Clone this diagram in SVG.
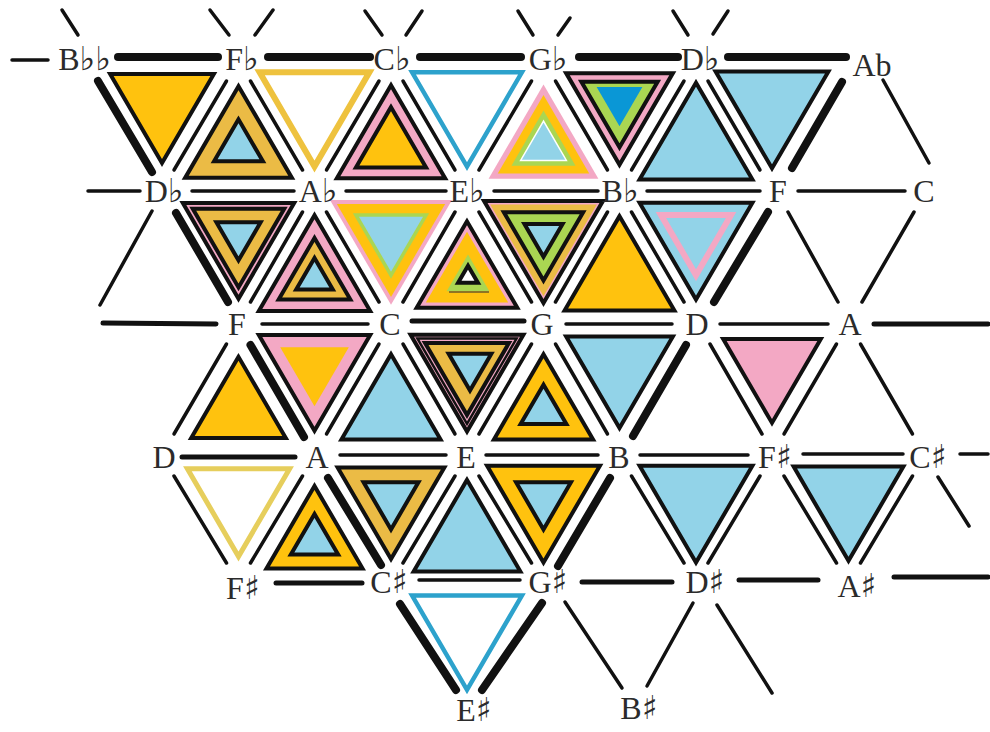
<svg xmlns="http://www.w3.org/2000/svg" width="990" height="732" viewBox="0 0 990 732">
<style>
.k{stroke:#111;stroke-width:4;stroke-linejoin:miter;stroke-miterlimit:10}
.o{fill:#FFC20E}.c{fill:#EBBB45}.b{fill:#92D3E8}.p{fill:#F3A8C4}.g{fill:#AAD652}.d{fill:#0A97D6}.w{fill:#fff}
.ys{fill:#fff;stroke:#EEC23E;stroke-width:6}
.yl{fill:#fff;stroke:#E6CE5C;stroke-width:5}
.bs{fill:#fff;stroke:#2DA2CC;stroke-width:4.5}
.ln line{stroke:#111;stroke-width:3.5;stroke-linecap:round}
.ln .th{stroke-width:8}
.ln .md{stroke-width:5}
.lb{font-family:"Liberation Serif","DejaVu Serif",serif;font-size:32px;fill:#2b2b2b;text-anchor:middle}
.lb tspan{font-family:"DejaVu Sans","DejaVu Serif",sans-serif;font-size:33px;fill:#2b2b2b}
</style>
<defs>
<polygon id="D" points="-76.25,-43.67 76.25,-43.67 0,87.33" vector-effect="non-scaling-stroke"/>
<polygon id="U" points="0,-87.33 -76.25,43.67 76.25,43.67" vector-effect="non-scaling-stroke"/>
</defs>
<rect width="990" height="732" fill="#fff"/>

<g id="connectors" class="ln">
<line x1="62" y1="10" x2="78" y2="35"/>
<line x1="210" y1="10" x2="229" y2="35"/><line x1="273" y1="10" x2="255" y2="35"/>
<line x1="365" y1="11" x2="382" y2="35"/><line x1="422" y1="11" x2="406" y2="35"/>
<line x1="518" y1="11" x2="533" y2="35"/><line x1="570" y1="18" x2="558" y2="35"/>
<line x1="673" y1="11" x2="688" y2="35"/><line x1="728" y1="11" x2="713" y2="34"/>
<line x1="12" y1="60" x2="48" y2="60"/>
<line class="th" x1="118" y1="57" x2="218" y2="57"/>
<line class="th" x1="268" y1="57" x2="370" y2="57"/>
<line class="th" x1="420" y1="57" x2="521" y2="57"/>
<line class="th" x1="579" y1="57" x2="678" y2="57"/>
<line class="th" x1="728" y1="57" x2="846" y2="57"/>

<line class="th" x1="98" y1="81" x2="152" y2="172"/>
<line x1="226.5" y1="81" x2="174" y2="170"/>
<line x1="250.5" y1="81" x2="302.5" y2="170"/>
<line x1="379" y1="81" x2="326.5" y2="170"/>
<line x1="403" y1="81" x2="455" y2="170"/>
<line x1="531.5" y1="81" x2="479" y2="170"/>
<line x1="555.5" y1="81" x2="607.5" y2="170"/>
<line x1="684" y1="81" x2="631.5" y2="170"/>
<line x1="708" y1="81" x2="760" y2="170"/>
<line class="th" x1="842" y1="82" x2="792" y2="168"/>
<line x1="883" y1="80" x2="929" y2="163"/>

<line x1="88" y1="191" x2="140" y2="191"/>
<line x1="192" y1="191" x2="294" y2="191"/>
<line x1="346" y1="191" x2="446" y2="191"/>
<line x1="494" y1="191" x2="598" y2="191"/>
<line x1="647" y1="191" x2="760" y2="191"/>
<line x1="798" y1="191" x2="905" y2="191"/>

<line x1="152" y1="211" x2="100" y2="305"/>
<line class="th" x1="176" y1="213" x2="228" y2="302"/>
<line x1="302.5" y1="212" x2="250.5" y2="302"/>
<line x1="326.5" y1="212" x2="379" y2="302"/>
<line x1="455" y1="212" x2="403" y2="302"/>
<line x1="479" y1="212" x2="531.5" y2="302"/>
<line x1="607.5" y1="212" x2="555.5" y2="302"/>
<line x1="631.5" y1="212" x2="684" y2="302"/>
<line class="th" x1="768" y1="212" x2="714" y2="302"/>
<line x1="788" y1="212" x2="838" y2="302"/>
<line x1="914" y1="212" x2="862" y2="302"/>

<line class="md" x1="103" y1="323" x2="216" y2="324"/>
<line x1="262" y1="324" x2="368" y2="324"/>
<line class="md" x1="412" y1="321" x2="524" y2="321"/>
<line x1="566" y1="324" x2="672" y2="324"/>
<line x1="720" y1="324" x2="828" y2="324"/>
<line class="md" x1="874" y1="324" x2="988" y2="324"/>

<line x1="226.5" y1="344" x2="174" y2="434"/>
<line class="th" x1="250.5" y1="345" x2="304" y2="437"/>
<line x1="379" y1="344" x2="326.5" y2="434"/>
<line x1="403" y1="344" x2="455" y2="434"/>
<line x1="531.5" y1="344" x2="479" y2="434"/>
<line x1="555.5" y1="344" x2="607.5" y2="434"/>
<line class="th" x1="686" y1="345" x2="633" y2="436"/>
<line x1="710" y1="344" x2="762" y2="434"/>
<line x1="836.5" y1="344" x2="784" y2="434"/>
<line x1="860.5" y1="344" x2="912.5" y2="434"/>

<line class="md" x1="182" y1="457" x2="295" y2="457"/>
<line x1="340" y1="455" x2="446" y2="455"/>
<line x1="486" y1="455" x2="598" y2="455"/>
<line x1="640" y1="455" x2="748" y2="455"/>
<line x1="803" y1="454" x2="903" y2="454"/>
<line x1="960" y1="454" x2="988" y2="454"/>

<line x1="174" y1="476" x2="226.5" y2="563"/>
<line x1="302.5" y1="476" x2="250.5" y2="563"/>
<line class="th" x1="328" y1="478" x2="381" y2="565"/>
<line x1="455" y1="476" x2="403" y2="563"/>
<line x1="479" y1="476" x2="531.5" y2="563"/>
<line class="th" x1="610" y1="478" x2="558" y2="566"/>
<line x1="631.5" y1="476" x2="684" y2="563"/>
<line x1="760" y1="476" x2="708" y2="563"/>
<line x1="784" y1="476" x2="836.5" y2="563"/>
<line x1="912.5" y1="476" x2="860.5" y2="563"/>
<line x1="938" y1="477" x2="969" y2="526"/>

<line class="md" x1="276" y1="583" x2="362" y2="583"/>
<line x1="419" y1="580" x2="520" y2="580"/>
<line class="md" x1="582" y1="582" x2="672" y2="582"/>
<line class="md" x1="739" y1="580" x2="818" y2="580"/>
<line class="md" x1="894" y1="577" x2="988" y2="577"/>

<line class="th" x1="400" y1="604" x2="456" y2="690"/>
<line class="th" x1="542" y1="603" x2="482" y2="690"/>
<line x1="565" y1="602" x2="622" y2="688"/>
<line x1="693" y1="603" x2="647" y2="686"/>
<line x1="717" y1="605" x2="772" y2="693"/>
</g>

<g id="t-BbbFbDb"><use href="#D" class="o k" transform="translate(162 103.7) scale(0.68)"/></g>
<g id="t-FbDbAb"><use href="#U" class="c k" transform="translate(238.5 147.3) scale(0.70)"/><use href="#U" class="b k" transform="translate(238.5 147.3) scale(0.32)"/></g>
<g id="t-FbCbAb"><use href="#D" class="ys" transform="translate(314.5 103.7) scale(0.72)"/></g>
<g id="t-CbAbEb"><use href="#U" class="p k" transform="translate(391 147.3) scale(0.71)"/><use href="#U" class="o k" transform="translate(391 147.3) scale(0.46)"/></g>
<g id="t-CbGbEb"><use href="#D" class="bs" transform="translate(467 103.7) scale(0.72)"/></g>
<g id="t-GbEbBb"><use href="#U" class="p" transform="translate(543.5 147.3) scale(0.72)"/><use href="#U" class="o" transform="translate(543.5 147.3) scale(0.60)"/><use href="#U" class="g" transform="translate(543.5 147.3) scale(0.42)"/><use href="#U" class="b" stroke="#fff" stroke-width="1.5" transform="translate(543.5 147.3) scale(0.30)"/></g>
<g id="t-GbDbBb"><use href="#D" class="p k" transform="translate(619.5 103.7) scale(0.70)"/><use href="#D" class="g k" transform="translate(619.5 103.7) scale(0.50)"/><use href="#D" class="d" transform="translate(619.5 100) scale(0.30)"/></g>
<g id="t-DbBbF"><use href="#U" class="b k" transform="translate(696 147.3) scale(0.74)"/></g>
<g id="t-DbAbF"><use href="#D" class="b k" transform="translate(772 103.7) scale(0.74)"/></g>

<g id="t-DbAbF2"><use href="#D" class="p k" transform="translate(238.5 235) scale(0.73)"/><use href="#D" class="c k" transform="translate(238.5 235) scale(0.60)"/><use href="#D" class="b k" transform="translate(238.5 235) scale(0.29)"/></g>
<g id="t-FCAb"><use href="#U" class="p k" transform="translate(314.5 279) scale(0.73)"/><use href="#U" class="c k" transform="translate(314.5 279) scale(0.47)"/><use href="#U" class="b k" transform="translate(314.5 279) scale(0.24)"/></g>
<g id="t-AbEbC"><use href="#D" class="p" transform="translate(391 235) scale(0.80)"/><use href="#D" class="o" transform="translate(391 235) scale(0.71)"/><use href="#D" class="g" transform="translate(391 235) scale(0.50)"/><use href="#D" class="b" transform="translate(391 235) scale(0.42)"/></g>
<g id="t-CGEb"><use href="#U" class="p k" transform="translate(467 279) scale(0.66)"/><use href="#U" class="o" transform="translate(467 279) scale(0.54)"/><use href="#U" class="g" transform="translate(468 279) scale(0.28)"/><line x1="449" y1="292" x2="489" y2="292" stroke="#6b5a2a" stroke-width="1.5"/><use href="#U" class="w k" stroke-width="3.5" transform="translate(468 277) scale(0.13)"/></g>
<g id="t-EbBbG"><use href="#D" class="p k" transform="translate(543.5 235) scale(0.78)"/><use href="#D" class="c" transform="translate(543.5 235) scale(0.70)"/><use href="#D" class="g k" transform="translate(543.5 235) scale(0.52)"/><use href="#D" class="b k" transform="translate(543.5 235) scale(0.25)"/></g>
<g id="t-GDBb"><use href="#U" class="o k" transform="translate(619.5 279) scale(0.72)"/></g>
<g id="t-BbFD"><use href="#D" class="b k" transform="translate(696 235) scale(0.74)"/><use href="#D" class="b" stroke="#F3A8C4" stroke-width="6" transform="translate(696 235) scale(0.46)"/></g>

<g id="t-DAF"><use href="#U" class="o k" transform="translate(238.5 411) scale(0.62)"/></g>
<g id="t-FCA"><use href="#D" class="p k" transform="translate(314.5 367) scale(0.73)"/><use href="#D" class="o" transform="translate(314.5 367) scale(0.45)"/></g>
<g id="t-AEC"><use href="#U" class="b k" transform="translate(391 411) scale(0.65)"/></g>
<g id="t-CGE"><use href="#D" class="p k" transform="translate(467 367) scale(0.74)"/><use href="#D" class="p" stroke="#111" stroke-width="2.5" transform="translate(467 367) scale(0.65)"/><use href="#D" class="c k" transform="translate(467 367) scale(0.55)"/><use href="#D" class="b k" transform="translate(470 366) scale(0.28)"/></g>
<g id="t-EBG"><use href="#U" class="o k" transform="translate(543.5 411) scale(0.65)"/><use href="#U" class="b k" transform="translate(543.5 411) scale(0.30)"/></g>
<g id="t-GDB"><use href="#D" class="b k" transform="translate(619.5 367) scale(0.70)"/></g>
<g id="t-DAFs"><use href="#D" class="p k" transform="translate(772 367) scale(0.64)"/></g>

<g id="t-DAFs2"><use href="#D" class="yl" transform="translate(238.5 498) scale(0.67)"/></g>
<g id="t-FsCsA"><use href="#U" class="o k" transform="translate(314.5 541) scale(0.63)"/><use href="#U" class="b k" transform="translate(314.5 541) scale(0.31)"/></g>
<g id="t-AECs"><use href="#D" class="c k" transform="translate(391 498) scale(0.70)"/><use href="#D" class="b k" transform="translate(391 498) scale(0.36)"/></g>
<g id="t-CsGsE"><use href="#U" class="b k" transform="translate(467 541) scale(0.70)"/></g>
<g id="t-EBGs"><use href="#D" class="o k" transform="translate(543.5 498) scale(0.74)"/><use href="#D" class="b k" transform="translate(543.5 498) scale(0.36)"/></g>
<g id="t-BFsDs"><use href="#D" class="b k" transform="translate(696 498) scale(0.74)"/></g>
<g id="t-FsCsAs"><use href="#D" class="b k" transform="translate(848.5 498) scale(0.72)"/></g>
<g id="t-CsGsEs"><use href="#D" class="bs" transform="translate(467 627) scale(0.72)"/></g>

<g class="lb">
<g id="n-Bbb"><text x="84.5" y="70">B<tspan>♭♭</tspan></text></g>
<g id="n-Fb"><text x="242" y="70">F<tspan>♭</tspan></text></g>
<g id="n-Cb"><text x="392" y="70">C<tspan>♭</tspan></text></g>
<g id="n-Gb"><text x="548" y="70">G<tspan>♭</tspan></text></g>
<g id="n-Db"><text x="700" y="70">D<tspan>♭</tspan></text></g>
<g id="n-Ab"><text x="872" y="76">Ab</text></g>
<g id="n-Db2"><text x="164" y="202">D<tspan>♭</tspan></text></g>
<g id="n-Ab2"><text x="318" y="202">A<tspan>♭</tspan></text></g>
<g id="n-Eb"><text x="467" y="202">E<tspan>♭</tspan></text></g>
<g id="n-Bb"><text x="620" y="202">B<tspan>♭</tspan></text></g>
<g id="n-F"><text x="778" y="202">F</text></g>
<g id="n-C"><text x="924" y="202">C</text></g>
<g id="n-F2"><text x="237" y="335">F</text></g>
<g id="n-C2"><text x="390" y="335">C</text></g>
<g id="n-G"><text x="542" y="335">G</text></g>
<g id="n-D"><text x="697" y="335">D</text></g>
<g id="n-A"><text x="850" y="335">A</text></g>
<g id="n-D2"><text x="164" y="468">D</text></g>
<g id="n-A2"><text x="317" y="468">A</text></g>
<g id="n-E"><text x="466" y="468">E</text></g>
<g id="n-B"><text x="619" y="468">B</text></g>
<g id="n-Fs"><text x="775" y="468">F<tspan>♯</tspan></text></g>
<g id="n-Cs"><text x="928" y="468">C<tspan>♯</tspan></text></g>
<g id="n-Fs2"><text x="243" y="599">F<tspan>♯</tspan></text></g>
<g id="n-Cs2"><text x="389" y="593">C<tspan>♯</tspan></text></g>
<g id="n-Gs"><text x="548" y="593">G<tspan>♯</tspan></text></g>
<g id="n-Ds"><text x="705" y="593">D<tspan>♯</tspan></text></g>
<g id="n-As"><text x="857" y="597">A<tspan>♯</tspan></text></g>
<g id="n-Es"><text x="474" y="721">E<tspan>♯</tspan></text></g>
<g id="n-Bs"><text x="639" y="719">B<tspan>♯</tspan></text></g>
</g>
</svg>
